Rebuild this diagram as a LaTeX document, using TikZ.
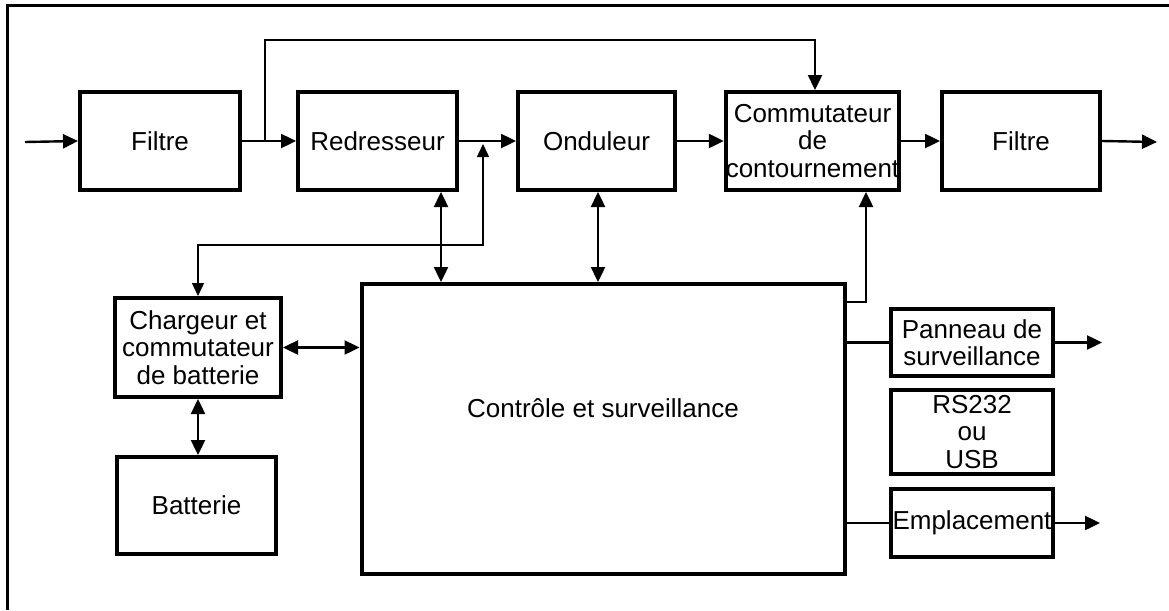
\documentclass[tikz,border=0pt]{standalone}
\usepackage{fontspec}
\setmainfont{Liberation Sans}
\usetikzlibrary{arrows.meta,positioning,calc}

\begin{document}
\begin{tikzpicture}[
    x=1pt, y=-1pt,
    blk/.style={draw, line width=4pt, inner sep=0pt, align=center,
        font=\fontsize{26}{27.5}\selectfont},
    wire/.style={line width=2.4pt, -{Triangle[length=15pt,width=14pt]}},
    dbl/.style={line width=2.4pt, {Triangle[length=15pt,width=14pt]}-{Triangle[length=15pt,width=14pt]}},
    plain/.style={line width=2.4pt},
    thinwire/.style={line width=1.5pt, {Triangle[length=13pt,width=12pt]}-{Triangle[length=13pt,width=12pt]}}
]
\useasboundingbox (0,0) rectangle (1169,610);

% frame
\draw[line width=3pt] (1169,6) -- (7,6) -- (7,610);

% Main power chain
\node[blk, minimum width=160pt, minimum height=98pt] (filtreA) at (160,141) {Filtre};
\node[blk, minimum width=159pt, minimum height=98pt] (redr) at (377.5,141) {Redresseur};
\node[blk, minimum width=157pt, minimum height=98pt] (ond) at (596.5,141) {Onduleur};
\node[blk, minimum width=171pt, minimum height=98pt] (comm) at (812.5,141) {Commutateur\\de\\contournement};
\node[blk, minimum width=158pt, minimum height=98pt] (filtreB) at (1021,141) {Filtre};

% Battery side
\node[blk, minimum width=166pt, minimum height=99pt] (charg) at (198,347.5) {Chargeur et\\commutateur\\de batterie};
\node[blk, minimum width=159pt, minimum height=97pt] (batt) at (196.5,505.5) {Batterie};

% Control and outputs
\node[blk, minimum width=483pt, minimum height=290pt, text depth=41pt] (ctrl) at (603,429) {Contrôle et surveillance};
\node[blk, minimum width=162pt, minimum height=67pt] (pann) at (972,342.5) {Panneau de\\surveillance};
\node[blk, minimum width=162pt, minimum height=84pt] (rs) at (972,432) {RS232\\ou\\USB};
\node[blk, minimum width=162pt, minimum height=68pt] (empl) at (972,523) {Emplacement};

\coordinate (in) at (25,142);
\coordinate (out) at (1157,142);
\coordinate (bp) at (265,142);
\coordinate (bptop) at (815,40);
\coordinate (dc) at (483,144);
\coordinate (dclow) at (483,245);

% Arrows along the chain
\draw[wire] (in) -- (filtreA.west);
\draw[wire] (filtreA.east) -- (redr.west);
\draw[wire] (redr.east) -- (ond.west);
\draw[wire] (ond.east) -- (comm.west);
\draw[wire] (comm.east) -- (filtreB.west);
\draw[wire] (filtreB.east) -- (out);
\draw[wire] (bp) |- (bptop) -- (bptop |- comm.north);

% Links to the control block
\draw[thinwire] (charg.north) |- (dclow) -- (dc);
\draw[dbl] ([xshift=63.5pt]redr.south) -- ([xshift=63.5pt]redr.south |- ctrl.north);
\draw[dbl] ([xshift=1.5pt]ond.south) -- ([xshift=1.5pt]ond.south |- ctrl.north);
\draw[wire] ([yshift=-20pt]ctrl.north east) -| ([xshift=53.5pt]comm.south);
\draw[dbl] (charg.east) -- (charg.east -| ctrl.west);
\draw[dbl] (charg.south) -- (charg.south |- batt.north);

% Outputs
\draw[plain] (pann.west -| ctrl.east) -- (pann.west);
\draw[wire] (pann.east) -- ++(47,0);
\draw[plain] (empl.west -| ctrl.east) -- (empl.west);
\draw[wire] (empl.east) -- ++(45,0);
\end{tikzpicture}
\end{document}
